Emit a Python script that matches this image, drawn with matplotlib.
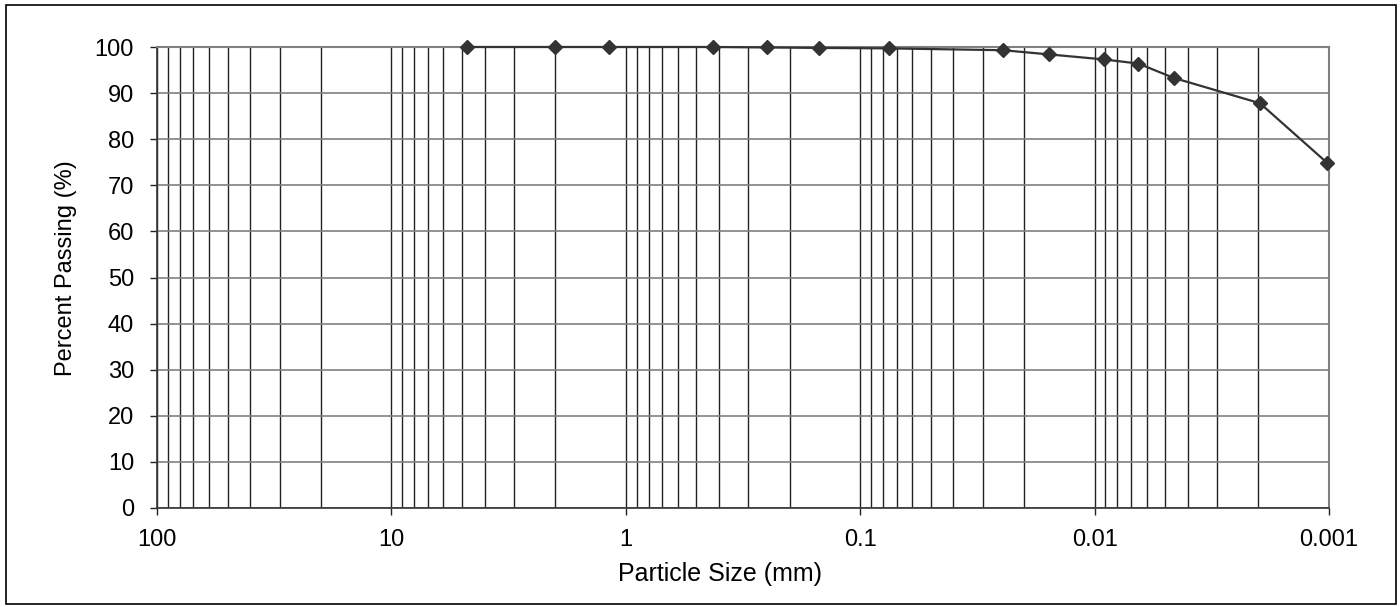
import numpy as np
import matplotlib.pyplot as plt
from matplotlib.patches import Rectangle
from matplotlib.ticker import LogLocator, FixedLocator, NullFormatter

# Data
particle_size = [4.75, 2.0, 1.18, 0.425, 0.25, 0.15, 0.075,
                 0.0245, 0.0157, 0.0091, 0.0065, 0.0046, 0.00197, 0.00102]
percent_passing = [100.0, 100.0, 100.0, 100.0, 99.9, 99.8, 99.7,
                   99.3, 98.4, 97.3, 96.4, 93.3, 87.8, 74.9]

x_ticks = [100, 10, 1, 0.1, 0.01, 0.001]
x_tick_labels = ["100", "10", "1", "0.1", "0.01", "0.001"]
y_ticks = list(range(0, 101, 10))

plt.rcParams['font.family'] = ['Liberation Sans', 'DejaVu Sans']

fig = plt.figure(figsize=(14, 6.07), dpi=100)
ax = fig.add_axes([157 / 1400, 1 - 508 / 607, (1329 - 157) / 1400, (508 - 47) / 607])

# outer frame of the chart
fig.patches.append(Rectangle((6 / 1400, 3 / 607), 1390 / 1400, 599 / 607,
                             transform=fig.transFigure, fill=False,
                             edgecolor='black', linewidth=1.2))

ax.plot(particle_size, percent_passing, color='#333333', linewidth=1.6,
        marker='D', markersize=7, markerfacecolor='#333333',
        markeredgecolor='#333333', zorder=5, clip_on=False)

ax.set_xscale('log')
ax.set_xlim(100, 0.001)
ax.set_ylim(0, 100)

ax.xaxis.set_major_locator(FixedLocator(x_ticks))
ax.set_xticklabels(x_tick_labels)
ax.xaxis.set_minor_locator(LogLocator(base=10, subs=np.arange(2, 10), numticks=20))
ax.xaxis.set_minor_formatter(NullFormatter())
ax.set_yticks(y_ticks)

ax.grid(True, which='major', axis='x', color='#222222', linewidth=1.0)
ax.grid(True, which='minor', axis='x', color='#222222', linewidth=1.0)
ax.grid(True, which='major', axis='y', color='#808080', linewidth=1.2)
ax.set_axisbelow(True)

ax.tick_params(axis='x', which='major', direction='out', length=5, width=1,
               color='#222222', labelsize=17, pad=10)
ax.tick_params(axis='x', which='minor', length=0)
ax.tick_params(axis='y', which='major', direction='out', length=5, width=1,
               color='#222222', labelsize=17, pad=11.5)

for side in ['top', 'right']:
    ax.spines[side].set_color('#808080')
    ax.spines[side].set_linewidth(1.5)
for side in ['left', 'bottom']:
    ax.spines[side].set_color('#333333')
    ax.spines[side].set_linewidth(1.2)

ax.set_xlabel("Particle Size (mm)", fontsize=18)
ax.set_ylabel("Percent Passing (%)", fontsize=17)
ax.xaxis.set_label_coords(0.480, -0.117)
ax.yaxis.set_label_coords(-0.068, 0.521)

fig.savefig("out.png", dpi=100)
